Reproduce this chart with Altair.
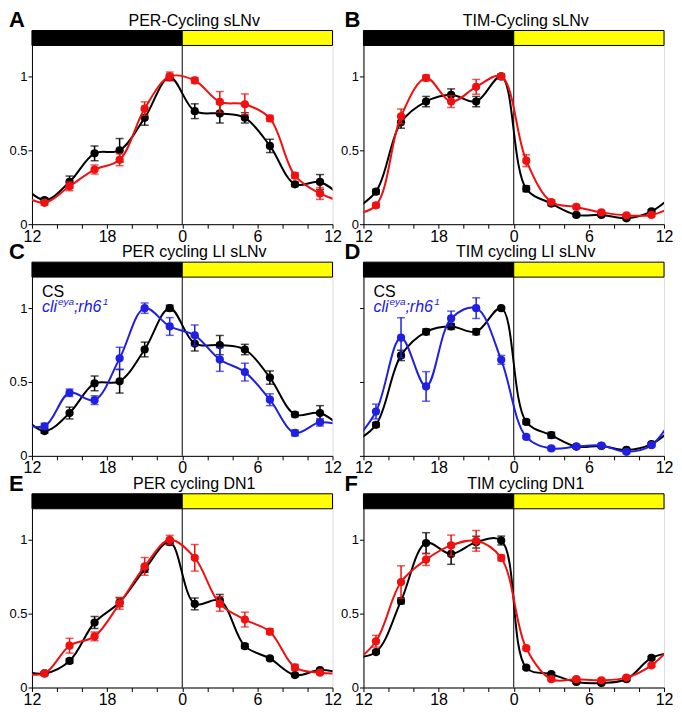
import altair as alt
import pandas as pd

FONT = "Liberation Sans"

HOURS = [-11, -9, -7, -5, -3, -1, 1, 3, 5, 7, 9, 11]
XTICK_POS = [-12, -6, 0, 6, 12]
XTICK_LABELS = ["12", "18", "0", "6", "12"]
YTICKS = [0, 0.5, 1]

PHASE = ["dark", "light"]
PHASE_START = [-12, 0]
PHASE_END = [0, 12]

# Panel A: PER-Cycling sLNv
A_cs = [0.163, 0.286, 0.48, 0.50, 0.72, 0.995, 0.765, 0.75, 0.72, 0.53, 0.27, 0.286]
A_cs_err = [0.015, 0.04, 0.05, 0.08, 0.05, 0.02, 0.05, 0.065, 0.035, 0.045, 0.015, 0.05]
A_mut = [0.145, 0.257, 0.37, 0.436, 0.783, 1.0, 0.973, 0.828, 0.812, 0.716, 0.329, 0.208]
A_mut_err = [0.015, 0.03, 0.03, 0.04, 0.045, 0.03, 0.02, 0.07, 0.07, 0.02, 0.02, 0.04]

# Panel B: TIM-Cycling sLNv
B_cs = [0.22, 0.69, 0.83, 0.876, 0.83, 1.0, 0.24, 0.14, 0.063, 0.063, 0.04, 0.087]
B_cs_err = [0.015, 0.04, 0.035, 0.04, 0.035, 0.015, 0.02, 0.015, 0.01, 0.01, 0.01, 0.01]
B_mut = [0.128, 0.73, 0.99, 0.83, 0.93, 1.0, 0.43, 0.15, 0.117, 0.08, 0.06, 0.063]
B_mut_err = [0.015, 0.05, 0.02, 0.04, 0.05, 0.015, 0.04, 0.015, 0.01, 0.01, 0.01, 0.01]

# Panel C: PER cycling LI sLNv
C_cs = [0.168, 0.29, 0.49, 0.505, 0.72, 1.0, 0.76, 0.75, 0.72, 0.53, 0.28, 0.29]
C_cs_err = [0.015, 0.04, 0.05, 0.08, 0.05, 0.02, 0.05, 0.065, 0.035, 0.045, 0.015, 0.05]
C_mut = [0.20, 0.427, 0.377, 0.66, 1.0, 0.876, 0.816, 0.652, 0.567, 0.38, 0.155, 0.227]
C_mut_err = [0.02, 0.025, 0.03, 0.075, 0.035, 0.06, 0.07, 0.08, 0.06, 0.04, 0.02, 0.025]

# Panel D: TIM cycling LI sLNv
D_cs = [0.21, 0.68, 0.84, 0.876, 0.84, 1.0, 0.23, 0.14, 0.063, 0.067, 0.04, 0.08]
D_cs_err = [0.015, 0.035, 0.02, 0.02, 0.02, 0.01, 0.015, 0.02, 0.01, 0.01, 0.01, 0.01]
D_mut = [0.30, 0.80, 0.47, 0.93, 1.0, 0.65, 0.128, 0.05, 0.063, 0.07, 0.027, 0.072]
D_mut_err = [0.05, 0.135, 0.1, 0.05, 0.07, 0.03, 0.01, 0.01, 0.01, 0.01, 0.01, 0.01]

# Panel E: PER cycling DN1
E_cs = [0.095, 0.18, 0.44, 0.577, 0.80, 0.985, 0.566, 0.59, 0.28, 0.197, 0.084, 0.118]
E_cs_err = [0.01, 0.015, 0.04, 0.03, 0.02, 0.02, 0.04, 0.04, 0.015, 0.01, 0.01, 0.01]
E_mut = [0.095, 0.283, 0.346, 0.57, 0.82, 1.0, 0.878, 0.566, 0.46, 0.378, 0.136, 0.10]
E_mut_err = [0.01, 0.05, 0.03, 0.04, 0.06, 0.03, 0.09, 0.05, 0.05, 0.02, 0.02, 0.01]

# Panel F: TIM cycling DN1
F_cs = [0.24, 0.586, 0.978, 0.904, 0.984, 0.995, 0.134, 0.09, 0.038, 0.031, 0.056, 0.20]
F_cs_err = [0.01, 0.02, 0.07, 0.07, 0.04, 0.03, 0.01, 0.01, 0.01, 0.01, 0.01, 0.01]
F_mut = [0.313, 0.714, 0.866, 0.962, 0.993, 0.877, 0.266, 0.056, 0.056, 0.049, 0.067, 0.15]
F_mut_err = [0.04, 0.11, 0.04, 0.07, 0.07, 0.02, 0.01, 0.01, 0.01, 0.01, 0.01, 0.01]

BLACK = "#000000"
RED = "#F01010"
BLUE = "#2020E0"

W = 301
H = 194
BAR_PX = 15
PLOT_TOP = 1.21
Y_MAX = PLOT_TOP * H / (H - BAR_PX)


def xlabel_expr():
    expr = "''"
    for p, l in reversed(list(zip(XTICK_POS, XTICK_LABELS))):
        expr = f"datum.value == {p} ? '{l}' : ({expr})"
    return expr


XSCALE = alt.Scale(domain=[-12, 12], nice=False, zero=False)
YSCALE = alt.Scale(domain=[0, Y_MAX], nice=False)


def x_enc(field="x"):
    return alt.X(f"{field}:Q", scale=XSCALE, title=None,
                 axis=alt.Axis(values=list(range(-12, 13, 2)), labelExpr=xlabel_expr(),
                               grid=False, tickSize=4, tickColor="black", domainColor="black",
                               labelFontSize=16, labelFont=FONT, labelColor="black",
                               labelPadding=0, labelFlush=False, labelOverlap=False))


def y_axis(show_labels):
    return alt.Axis(values=YTICKS, format="~g", grid=False, tickSize=4, tickColor="black",
                    domainColor="black", labelFontSize=13, labelFont=FONT,
                    labelColor="black", labelPadding=1, labels=show_labels)


def series(vals, errs, color, show_labels):
    yax = y_axis(show_labels)
    df = pd.DataFrame({"x": HOURS, "y": vals,
                       "lo": [v - e for v, e in zip(vals, errs)],
                       "hi": [v + e for v, e in zip(vals, errs)]})
    wrap = pd.DataFrame({"x": [HOURS[-1] - 24] + HOURS + [HOURS[0] + 24],
                         "y": [vals[-1]] + vals + [vals[0]]})
    line = alt.Chart(wrap).mark_line(interpolate="catmull-rom", clip=True, color=color,
                                     strokeWidth=2).encode(
        x=x_enc(), y=alt.Y("y:Q", scale=YSCALE, title=None, axis=yax))
    err = alt.Chart(df).mark_rule(color=color, strokeWidth=1.5).encode(
        x=x_enc(), y=alt.Y("lo:Q", scale=YSCALE, title=None, axis=yax), y2="hi:Q")
    cap_lo = alt.Chart(df).mark_tick(color=color, orient="horizontal", size=8, thickness=1.5).encode(
        x=x_enc(), y=alt.Y("lo:Q", scale=YSCALE, title=None, axis=yax))
    cap_hi = alt.Chart(df).mark_tick(color=color, orient="horizontal", size=8, thickness=1.5).encode(
        x=x_enc(), y=alt.Y("hi:Q", scale=YSCALE, title=None, axis=yax))
    pts = alt.Chart(df).mark_circle(color=color, size=68, opacity=1).encode(
        x=x_enc(), y=alt.Y("y:Q", scale=YSCALE, title=None, axis=yax))
    return [line, err, cap_lo, cap_hi, pts]


def text_layer(txt, px, py, size, color, weight="normal", style="normal", align="left"):
    return alt.Chart(pd.DataFrame({"t": [txt]})).mark_text(
        font=FONT, fontSize=size, fontWeight=weight, fontStyle=style, align=align,
        baseline="alphabetic", color=color).encode(
        text="t:N", x=alt.value(px), y=alt.value(py))


def panel(letter, letter_dx, title, cs, cs_err, mut, mut_err, mut_color,
          show_labels=True, legend=False):
    yax = y_axis(show_labels)
    ld = pd.DataFrame({"phase": PHASE, "x0": PHASE_START, "x1": PHASE_END})
    bar = alt.Chart(ld).mark_rect(stroke="black", strokeWidth=1).encode(
        x=x_enc("x0"), x2="x1:Q",
        y=alt.datum(PLOT_TOP, scale=YSCALE, axis=yax), y2=alt.datum(Y_MAX),
        fill=alt.Fill("phase:N", scale=alt.Scale(domain=PHASE, range=["#000000", "#FFFF00"]),
                      legend=None))
    zero = alt.Chart(pd.DataFrame({"x": [0]})).mark_rule(color="black", strokeWidth=1).encode(
        x=x_enc(), y=alt.datum(0), y2=alt.datum(PLOT_TOP))
    layers = [bar, zero]
    layers += series(cs, cs_err, BLACK, show_labels)
    layers += series(mut, mut_err, mut_color, show_labels)
    layers.append(text_layer(letter, letter_dx, -3, 22, "black", weight="bold"))
    layers.append(text_layer(title, W / 2 + 12, -5, 16, "black", align="center"))
    if legend:
        layers.append(text_layer("CS", 10, 35, 16, BLACK))
        layers.append(text_layer("cli", 10, 50, 16, BLUE, style="italic"))
        layers.append(text_layer("eya", 26, 43, 10, BLUE, style="italic"))
        layers.append(text_layer(";rh6", 42, 50, 16, BLUE, style="italic"))
        layers.append(text_layer("1", 71, 43, 10, BLUE, style="italic"))
    return alt.layer(*layers).properties(width=W, height=H)


pA = panel("A", -23, "PER-Cycling sLNv", A_cs, A_cs_err, A_mut, A_mut_err, RED)
pB = panel("B", -19, "TIM-Cycling sLNv", B_cs, B_cs_err, B_mut, B_mut_err, RED)
pC = panel("C", -23, "PER cycling LI sLNv", C_cs, C_cs_err, C_mut, C_mut_err, BLUE, legend=True)
pD = panel("D", -19, "TIM cycling LI sLNv", D_cs, D_cs_err, D_mut, D_mut_err, BLUE,
           show_labels=False, legend=True)
pE = panel("E", -23, "PER cycling DN1", E_cs, E_cs_err, E_mut, E_mut_err, RED)
pF = panel("F", -19, "TIM cycling DN1", F_cs, F_cs_err, F_mut, F_mut_err, RED)

chart = alt.concat(
    pA, pB, pC, pD, pE, pF, columns=2,
    spacing=alt.RowColnumber(row=38, column=31), bounds="flush", padding=0,
).configure_view(stroke="black", strokeWidth=1).configure(background="white")

chart.save("out.html", embed_options={"renderer": "svg", "actions": False})
